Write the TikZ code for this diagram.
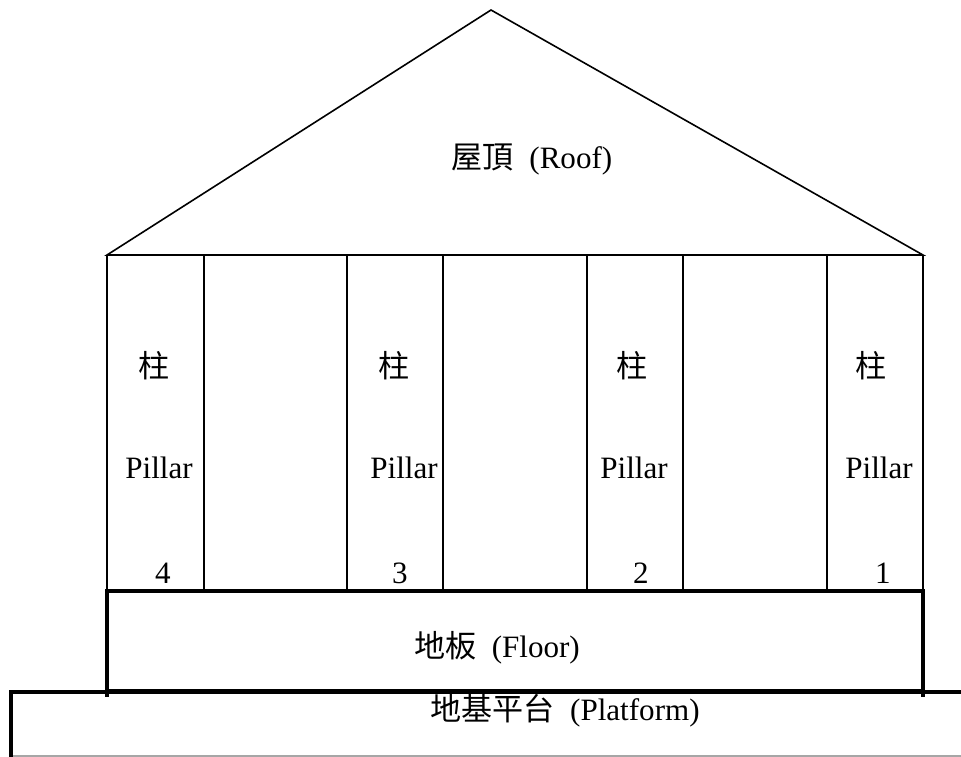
\documentclass[tikz,border=0pt]{standalone}
\usepackage{fontspec}
\setmainfont{Liberation Serif}
\newfontfamily\cjk{Noto Sans CJK TC}
\begin{document}
\begin{tikzpicture}[x=0.75pt,y=-0.75pt,
  roofline/.style={line width=1.2pt,line join=miter},
  pillarline/.style={line width=1.2pt},
  outerline/.style={line width=1.7pt},
  heavyline/.style={line width=3pt},
  baseline gray/.style={line width=1.1pt,draw=black!35},
  lbl/.style={inner sep=0pt,anchor=base,font=\fontsize{23.3}{28}\selectfont},
  cjklbl/.style={inner sep=0pt,anchor=center,font=\fontsize{23.3}{28}\selectfont\cjk}]
\useasboundingbox (0,0) rectangle (961,757);
% roof
\coordinate (apex) at (491,10);
\coordinate (rl) at (107,255);
\coordinate (rr) at (923,255);
\draw[roofline] (rl) -- (apex) -- (rr) -- cycle;
% pillars
\foreach \x in {204,347,443,587,683,827}{
  \draw[pillarline] (\x,255) -- (\x,591);
}
\draw[outerline] (107,255) -- (107,591);
\draw[outerline] (923,255) -- (923,591);
% floor
\draw[heavyline] (107,591) rectangle (923,691);
\draw[heavyline] (107,591) -- (107,697);
\draw[heavyline] (923,591) -- (923,697);
% platform
\draw[baseline gray] (11,756) -- (961,756);
\draw[heavyline] (961,692) -- (11,692) -- (11,757);
% texts
\node[lbl] (roof) at (532,168) {{\cjk 屋頂}\ \ (Roof)};
\node[lbl] (floor) at (497,657) {{\cjk 地板}\ \ (Floor)};
\node[lbl] (platform) at (565,720) {{\cjk 地基平台}\ \ (Platform)};
\node[cjklbl] (z4) at (154,366) {柱};
\node[cjklbl] (z3) at (394,366) {柱};
\node[cjklbl] (z2) at (632,366) {柱};
\node[cjklbl] (z1) at (871,366) {柱};
\node[lbl] (p4) at (159,478) {Pillar};
\node[lbl] (p3) at (404,478) {Pillar};
\node[lbl] (p2) at (634,478) {Pillar};
\node[lbl] (p1) at (879,478) {Pillar};
\node[lbl] (n4) at (163,583) {4};
\node[lbl] (n3) at (400,583) {3};
\node[lbl] (n2) at (641,583) {2};
\node[lbl] (n1) at (883,583) {1};
\end{tikzpicture}
\end{document}
